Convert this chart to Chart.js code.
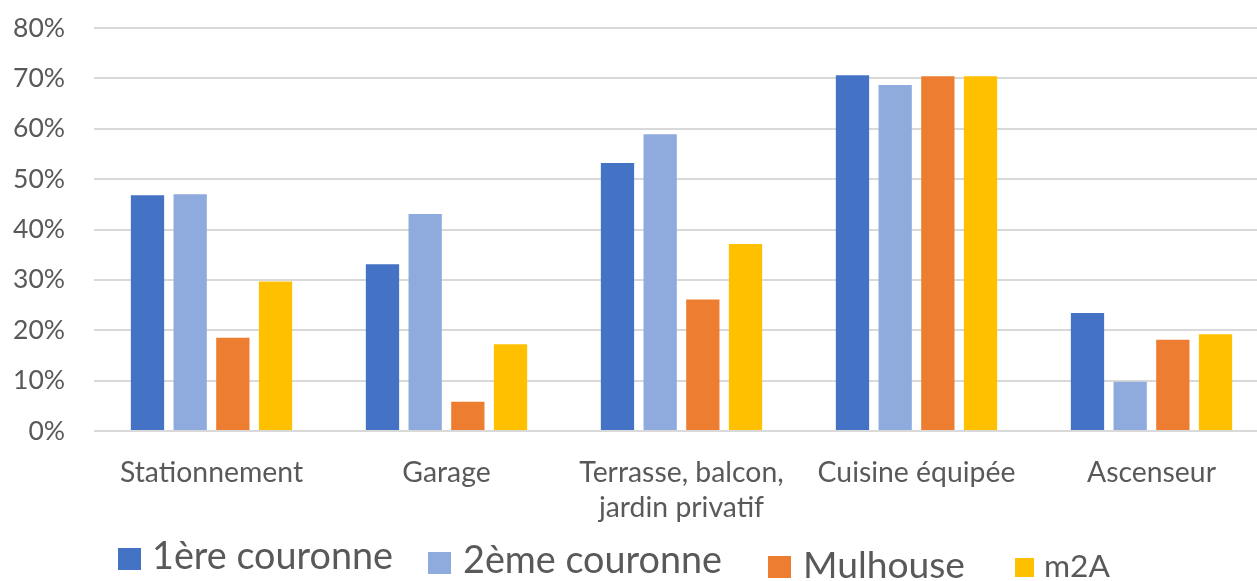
<!DOCTYPE html>
<html>
<head>
<meta charset="utf-8">
<script src="https://cdn.jsdelivr.net/npm/chart.js@4/dist/chart.umd.min.js"></script>
<style>
  html, body { margin: 0; padding: 0; background: #ffffff; overflow: hidden; width: 1257px; height: 581px; }
  canvas { display: block; }
</style>
</head>
<body>
<canvas id="c" width="1270" height="581"></canvas>
<script>
// ---- data ----
const categories = ['Stationnement', 'Garage', ['Terrasse, balcon,', 'jardin privatif'], 'Cuisine équipée', 'Ascenseur'];
const seriesNames = ['1ère couronne', '2ème couronne', 'Mulhouse', 'm2A'];
const premiereCouronne = [46.8, 33.1, 53.2, 70.6, 23.4];
const deuxiemeCouronne = [47.0, 43.1, 58.9, 68.7, 9.8];
const mulhouse = [18.5, 5.8, 26.1, 70.4, 18.1];
const m2A = [29.7, 17.2, 37.1, 70.4, 19.2];
const yTicks = [0, 10, 20, 30, 40, 50, 60, 70, 80];

// ---- style ----
const colors = ['#4472C4', '#8FAADC', '#ED7D31', '#FFC000'];
const textColor = '#595959';
const FAMILY = 'Lato';

function fitSize(text, target) {
  const ctx = document.createElement('canvas').getContext('2d');
  ctx.font = '100px ' + FAMILY;
  return 100 * target / ctx.measureText(text).width;
}
const xTickSize = (fitSize('Stationnement', 184) + fitSize('Cuisine équipée', 197)) / 2;
const yTickSize = fitSize('80%', 52);
const legendItems = [
  { sq: [118, 548, 23, 22], tx: 152, base: 569, size: fitSize(seriesNames[0], 241) },
  { sq: [428, 552, 23, 22], tx: 463, base: 573, size: fitSize(seriesNames[1], 259) },
  { sq: [768, 556, 23, 22], tx: 803, base: 578, size: fitSize(seriesNames[2], 162) },
  { sq: [1015, 558, 19, 19], tx: 1044, base: 577, size: fitSize(seriesNames[3], 66) }
];

const customLegend = {
  id: 'customLegend',
  afterDraw(chart) {
    const ctx = chart.ctx;
    ctx.save();
    chart.data.datasets.forEach((ds, i) => {
      const it = legendItems[i];
      ctx.fillStyle = ds.backgroundColor;
      ctx.fillRect(it.sq[0], it.sq[1], it.sq[2], it.sq[3]);
      ctx.fillStyle = textColor;
      ctx.font = it.size + 'px ' + FAMILY;
      ctx.textBaseline = 'alphabetic';
      ctx.textAlign = 'left';
      ctx.fillText(ds.label, it.tx, it.base);
    });
    ctx.restore();
  }
};

const seriesData = [premiereCouronne, deuxiemeCouronne, mulhouse, m2A];

new Chart(document.getElementById('c'), {
  type: 'bar',
  data: {
    labels: categories,
    datasets: seriesNames.map((name, i) => ({
      label: name,
      data: seriesData[i],
      backgroundColor: colors[i],
      borderWidth: 0,
      categoryPercentage: 0.7264,
      barPercentage: 0.78
    }))
  },
  options: {
    responsive: false,
    devicePixelRatio: 1,
    animation: false,
    layout: { padding: { top: 28, right: 1, bottom: 0, left: 0 } },
    plugins: {
      legend: { display: false },
      tooltip: { enabled: false }
    },
    scales: {
      x: {
        grid: { display: false, drawTicks: false },
        border: { display: false },
        ticks: {
          color: textColor,
          font: { family: FAMILY, size: xTickSize, lineHeight: 1.22 },
          padding: 25,
          maxRotation: 0,
          autoSkip: false
        },
        afterFit(scale) { scale.height = 150; scale.paddingLeft = 0; scale.paddingRight = 0; }
      },
      y: {
        min: 0,
        max: 80,
        afterBuildTicks(scale) { scale.ticks = yTicks.map(v => ({ value: v })); },
        grid: { color: '#D9D9D9', lineWidth: 2, drawTicks: false },
        border: { display: false },
        ticks: {
          color: textColor,
          font: { family: FAMILY, size: yTickSize },
          padding: 29,
          callback: v => v + '%'
        },
        afterFit(scale) { scale.width = 94; scale.paddingTop = 0; scale.paddingBottom = 0; }
      }
    }
  },
  plugins: [customLegend]
});
</script>
</body>
</html>
